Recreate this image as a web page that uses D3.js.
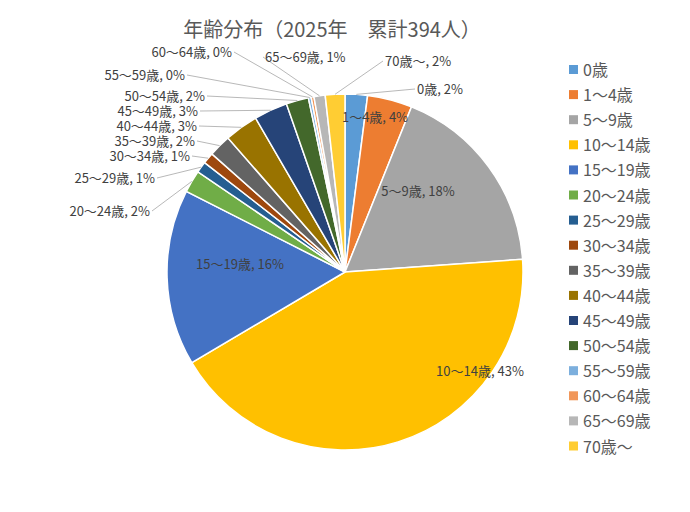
<!DOCTYPE html><html><head><meta charset="utf-8"><script src="https://cdn.jsdelivr.net/npm/d3@7"></script>
<style>body{margin:0;background:#fff}text{font-family:"Noto Sans CJK JP","Noto Sans",sans-serif}</style></head><body><svg id="c" width="690" height="512"></svg>
<script>
const categories=["0歳","1～4歳","5～9歳","10～14歳","15～19歳","20～24歳","25～29歳","30～34歳","35～39歳","40～44歳","45～49歳","50～54歳","55～59歳","60～64歳","65～69歳","70歳～"];
const values=[8,16,70,168,63,8,4,4,8,12,12,8,1,1,4,7];
const percentLabels=["2%","4%","18%","43%","16%","2%","1%","1%","2%","3%","3%","2%","0%","0%","1%","2%"];
const colors=["#5B9BD5","#ED7D31","#A5A5A5","#FFC000","#4472C4","#70AD47","#255E91","#9E480E","#636363","#997300","#264478","#43682B","#7CAFDD","#F1975A","#B7B7B7","#FFCD33"];
// label layout: [x, y, anchor, inside]
const labelPos=[[417,94,"start",0],[375,122,"middle",1],[418,196,"middle",1],[480,376,"middle",1],[240,269,"middle",1],[150,216,"end",0],[155,183,"end",0],[190,161,"end",0],[195,146,"end",0],[197,131,"end",0],[198,116,"end",0],[205,101,"end",0],[185,80,"end",0],[232,57,"end",0],[265,62,"start",0],[385,66,"start",0]];
const svg=d3.select("#c"),cx=345,cy=272,r=178;
svg.append("text").attr("x",332).attr("y",37).attr("text-anchor","middle").attr("font-size",20).attr("fill","#595959").text("年齢分布（2025年　累計394人）");
const g=svg.append("g").attr("transform",`translate(${cx},${cy})`);
const pie=d3.pie().sort(null)(values);
const arc=d3.arc().innerRadius(0).outerRadius(r);
g.selectAll("path").data(pie).join("path").attr("d",arc).attr("fill",(d,i)=>colors[i]).attr("stroke","#fff").attr("stroke-width",1.5);
pie.forEach((d,i)=>{const [lx,ly,anc,ins]=labelPos[i];
 if(!ins){const a=(d.startAngle+d.endAngle)/2;const px=cx+Math.sin(a)*r,py=cy-Math.cos(a)*r;
  const ex=anc==="end"?lx+2:lx-2;
  svg.append("line").attr("x1",ex).attr("y1",ly-5).attr("x2",px).attr("y2",py).attr("stroke","#a6a6a6").attr("stroke-width",0.8);}
 svg.append("text").attr("x",lx).attr("y",ly).attr("text-anchor",anc).attr("font-size",13).attr("fill","#404040").text(categories[i]+", "+percentLabels[i]);
});
const lg=svg.append("g");
categories.forEach((c,i)=>{const y=70+i*25.1;
 lg.append("rect").attr("x",569).attr("y",y-5).attr("width",9).attr("height",9).attr("fill",colors[i]);
 lg.append("text").attr("x",583).attr("y",y+6).attr("font-size",16).attr("fill","#595959").text(c);});
</script></body></html>
